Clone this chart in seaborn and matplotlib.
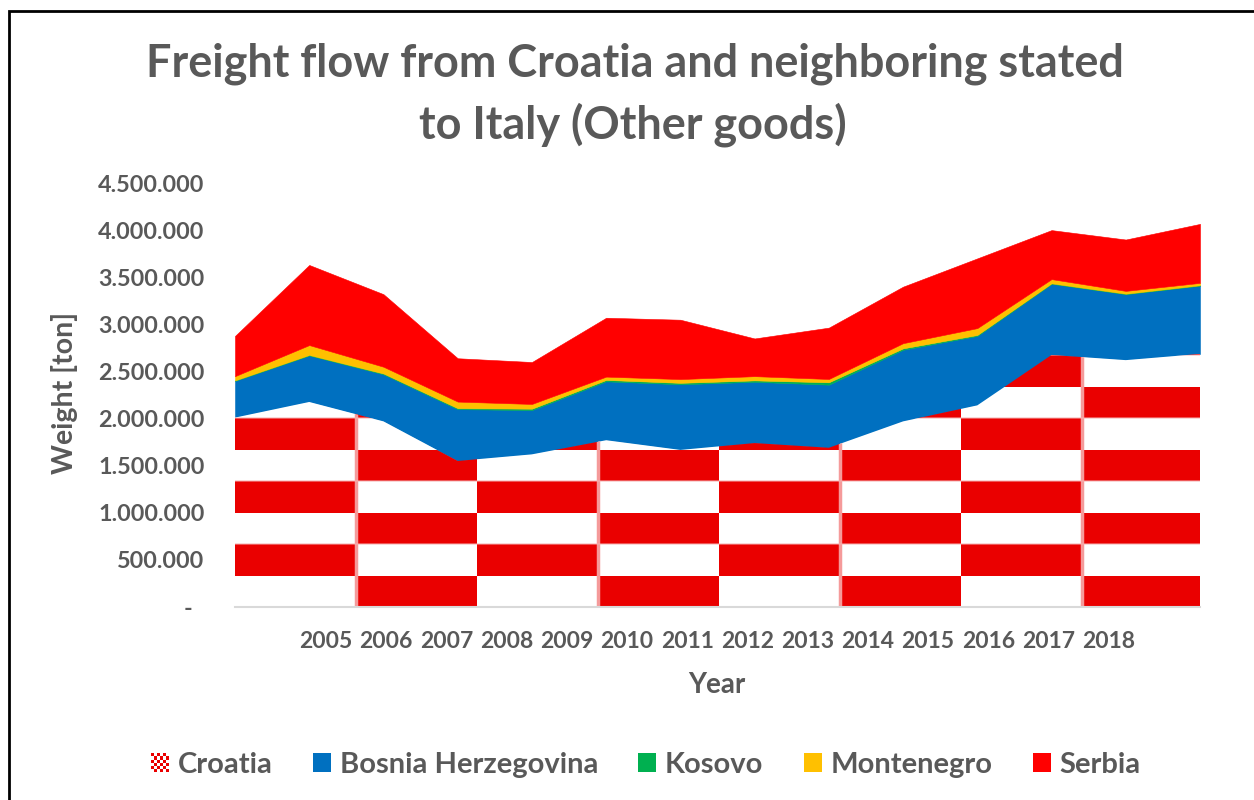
import numpy as np
import matplotlib
matplotlib.use("Agg")
import matplotlib.pyplot as plt
import seaborn as sns
from matplotlib.patches import Rectangle, Patch
from matplotlib.legend_handler import HandlerBase
from matplotlib.ticker import FuncFormatter

# ---- data (tons) ----
years = [2005, 2006, 2007, 2008, 2009, 2010, 2011, 2012, 2013, 2014, 2015, 2016, 2017, 2018]
croatia = [2010000, 2176000, 1970000, 1550000, 1620000, 1770000, 1667000,
           1740000, 1690000, 1970000, 2140000, 2675000, 2620000, 2686000]
bosnia = [390000, 494000, 500000, 550000, 470000, 625000, 697000,
          650000, 670000, 760000, 737000, 755000, 700000, 724000]
kosovo = [5000, 5000, 8000, 10000, 15000, 15000, 15000,
          15000, 25000, 15000, 10000, 5000, 5000, 5000]
montenegro = [45000, 105000, 72000, 70000, 50000, 35000, 40000,
              45000, 35000, 55000, 73000, 45000, 30000, 25000]
serbia = [427000, 850000, 770000, 460000, 445000, 625000, 630000,
          400000, 545000, 600000, 740000, 520000, 545000, 626000]
series_names = ["Croatia", "Bosnia Herzegovina", "Kosovo", "Montenegro", "Serbia"]
y_ticks = [0, 500000, 1000000, 1500000, 2000000, 2500000, 3000000, 3500000, 4000000, 4500000]

# ---- style ----
TEXT = "#595959"
CHECK_RED = "#EA0000"
colors = {"Bosnia Herzegovina": "#0070C0", "Kosovo": "#00B050",
          "Montenegro": "#FFC000", "Serbia": "#FF0000"}

sns.set_theme(style="white")
plt.rcParams["font.family"] = ["Lato", "DejaVu Sans"]
plt.rcParams["font.weight"] = "bold"

fig = plt.figure(figsize=(12.54, 8.0), dpi=100)
ax = fig.add_axes([235 / 1254, 1 - 607 / 800, 965 / 1254, 424 / 800])

x = np.arange(len(years))
polys = ax.stackplot(
    x, croatia, bosnia, kosovo, montenegro, serbia,
    colors=["none", colors["Bosnia Herzegovina"], colors["Kosovo"],
            colors["Montenegro"], colors["Serbia"]],
    linewidth=0.4,
)
polys[0].set_edgecolor("none")
for p in polys[1:]:
    p.set_edgecolor(p.get_facecolor())

# Croatia layer: red/white checkerboard clipped to its area
cell_w, cell_h = 1.63, 334000
ncols, nrows = 8, 14
grid = np.fromfunction(lambda r, c: (r + c) % 2, (nrows, ncols))
rgb = np.ones((nrows, ncols, 3))
red = np.array(matplotlib.colors.to_rgb(CHECK_RED))
rgb[grid == 1] = red
clip_path = polys[0].get_paths()[0]
im = ax.imshow(rgb, extent=[0, ncols * cell_w, 0, nrows * cell_h], origin="lower",
               interpolation="nearest", aspect="auto", zorder=1.5)
im.set_clip_path(clip_path, transform=ax.transData)
for k in range(1, ncols, 2):
    ln = ax.axvline(k * cell_w, color="#F59A9A", lw=2.5, zorder=1.6)
    ln.set_clip_path(clip_path, transform=ax.transData)
for k in range(2, nrows, 2):
    ln = ax.axhline(k * cell_h, color="#F5B0B0", lw=1.2, alpha=0.6, zorder=1.6)
    ln.set_clip_path(clip_path, transform=ax.transData)

ax.set_xlim(0, len(years) - 1)
ax.set_ylim(0, 4500000)

# axes decoration
sns.despine(ax=ax, left=True, top=True, right=True)
ax.spines["bottom"].set_color("#D9D9D9")
ax.spines["bottom"].set_linewidth(1.5)
ax.grid(False)

label_pos = 1.226 + 0.811 * np.arange(len(years))
ax.set_xticks(label_pos)
ax.set_xticklabels([str(y) for y in years])
ax.set_yticks(y_ticks)


def fmt(v, _):
    if v == 0:
        return "-  "
    return f"{int(v):,}".replace(",", ".")


ax.yaxis.set_major_formatter(FuncFormatter(fmt))
ax.tick_params(axis="x", length=0, pad=17, labelsize=16.5, labelcolor=TEXT)
ax.tick_params(axis="y", length=0, pad=22, labelsize=16.8, labelcolor=TEXT)
for lab in ax.get_xticklabels() + ax.get_yticklabels():
    lab.set_fontweight("bold")

# titles
fig.text(635 / 1254, 1 - 64 / 800, "Freight flow from Croatia and neighboring stated",
         ha="center", va="center", fontsize=32.4, color=TEXT, fontweight="bold")
fig.text(633 / 1254, 1 - 125 / 800, "to Italy (Other goods)",
         ha="center", va="center", fontsize=32.4, color=TEXT, fontweight="bold")
fig.text(65 / 1254, 1 - 393 / 800, "Weight [ton]", rotation=90, ha="center", va="center",
         fontsize=20.5, color=TEXT, fontweight="bold")
fig.text(717 / 1254, 1 - 685 / 800, "Year", ha="center", va="center",
         fontsize=20, color=TEXT, fontweight="bold")


# legend with a checkerboard swatch for Croatia
class CheckerPatch(Patch):
    pass


class CheckerHandler(HandlerBase):
    def create_artists(self, legend, orig_handle, xdescent, ydescent,
                       width, height, fontsize, trans):
        n = 6
        w, h = width / n, height / n
        arts = []
        for i in range(n):
            for j in range(n):
                c = CHECK_RED if (i + j) % 2 else "white"
                arts.append(Rectangle((-xdescent + i * w, -ydescent + j * h), w, h,
                                      facecolor=c, edgecolor="none", transform=trans))
        return arts


handles = [CheckerPatch(facecolor=CHECK_RED)] + [
    Patch(facecolor=colors[n], edgecolor="none") for n in series_names[1:]]
leg = fig.legend(handles, series_names, loc="center", bbox_to_anchor=(0.515, 1 - 765 / 800),
                 ncol=5, frameon=False, handler_map={CheckerPatch: CheckerHandler()},
                 prop={"size": 21, "weight": "bold"}, handlelength=0.62, handleheight=0.62,
                 handletextpad=0.3, columnspacing=1.38)
for t in leg.get_texts():
    t.set_color(TEXT)

# chart frame
fig.add_artist(Rectangle((9 / 1254, -0.05), 1.1, 1.05 - 11 / 800, transform=fig.transFigure,
                         fill=False, edgecolor="black", lw=2))

fig.savefig("out.png", dpi=100)
